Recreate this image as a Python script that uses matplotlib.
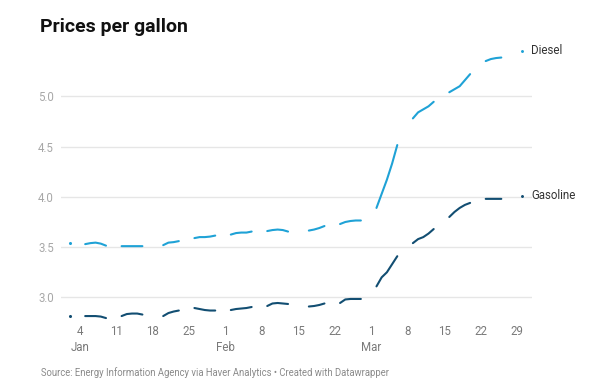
import numpy as np
import pandas as pd
import matplotlib
matplotlib.use("Agg")
import matplotlib.pyplot as plt
import matplotlib.transforms as mtransforms

plt.rcParams['font.family'] = ['Roboto', 'DejaVu Sans']

# daily values, first entry = Jan 2; None = no data (weekends / holidays)
start_date = "2022-01-02"
diesel = [3.54, None, None,
          3.53, 3.54, 3.545, 3.535, 3.515, None, None,
          3.51, 3.51, 3.51, 3.51, 3.51, None, None, None,
          3.52, 3.545, 3.55, 3.56, None, None,
          3.59, 3.60, 3.60, 3.605, 3.615, None, None,
          3.625, 3.64, 3.645, 3.645, 3.655, None, None,
          3.66, 3.67, 3.675, 3.67, 3.655, None, None, None,
          3.665, 3.675, 3.69, 3.71, None, None,
          3.73, 3.75, 3.76, 3.765, 3.765, None, None,
          3.89, 4.03, 4.17, 4.33, 4.515, None, None,
          4.78, 4.84, 4.87, 4.90, 4.945, None, None,
          5.04, 5.07, 5.10, 5.16, 5.22, None, None,
          5.35, 5.37, 5.38, 5.385]
gasoline = [2.815, None, None,
            2.815, 2.815, 2.815, 2.81, 2.795, None, None,
            2.815, 2.835, 2.84, 2.84, 2.83, None, None, None,
            2.815, 2.845, 2.86, 2.87, None, None,
            2.895, 2.885, 2.875, 2.87, 2.87, None, None,
            2.875, 2.885, 2.89, 2.895, 2.905, None, None,
            2.915, 2.94, 2.945, 2.94, 2.935, None, None, None,
            2.91, 2.915, 2.925, 2.94, None, None,
            2.945, 2.98, 2.985, 2.985, 2.985, None, None,
            3.11, 3.20, 3.25, 3.33, 3.41, None, None,
            3.54, 3.58, 3.60, 3.635, 3.68, None, None,
            3.80, 3.85, 3.89, 3.92, 3.94, None, None,
            3.98, 3.98, 3.98, 3.98]
tick_days = ["4", "11", "18", "25", "1", "8", "15", "22", "1", "8", "15", "22", "29"]
tick_months = ["Jan", "", "", "", "Feb", "", "", "", "Mar", "", "", "", ""]
label_names = ["Diesel", "Gasoline"]
label_values = [5.45, 4.01]
yticks = [3.0, 3.5, 4.0, 4.5, 5.0]

dates = pd.date_range(start_date, periods=len(diesel), freq="D")
df = pd.DataFrame({"Diesel": diesel, "Gasoline": gasoline}, index=dates).astype(float)
colors = {"Diesel": "#1fa2d6", "Gasoline": "#124e72"}

W, H = 612, 379
fig = plt.figure(figsize=(W / 100, H / 100), dpi=100)
ax = fig.add_axes([61 / W, 1 - 322.6 / H, (532 - 61) / W, (322.6 - 51) / H])

for name in ["Diesel", "Gasoline"]:
    s = df[name]
    ax.plot(s.index, s.values, color=colors[name], lw=1.5, solid_capstyle="round",
            solid_joinstyle="round", zorder=3)
    # single-day points have no neighbours, show them as dots
    lone = s.notna() & s.shift(1).isna() & s.shift(-1).isna()
    ax.plot(s.index[lone], s[lone], "o", ms=1.2, color=colors[name], zorder=3)

t0 = pd.Timestamp("2022-01-01")
ax.set_xlim(t0 - pd.Timedelta(days=0.65), t0 + pd.Timedelta(days=89.9))
ax.set_ylim(2.75, 5.45)

tick_dates = pd.date_range("2022-01-04", periods=len(tick_days), freq="7D")
ax.set_xticks(tick_dates)
ax.set_xticklabels([d + ("\n" + m if m else "") for d, m in zip(tick_days, tick_months)],
                   fontsize=8.3, color="#7a7a7a", linespacing=1.25, va="top")
ax.set_yticks(yticks)
ax.set_yticklabels([f"{v:.1f}" for v in yticks], fontsize=8.3, color="#a8a8a8")
ax.tick_params(axis="x", length=0, pad=2)
ax.tick_params(axis="y", length=0, pad=5)
ax.grid(axis="y", color="#e6e6e6", lw=1)
ax.set_axisbelow(True)
for sp in ax.spines.values():
    sp.set_visible(False)

trans = mtransforms.blended_transform_factory(ax.transAxes, ax.transData)
for name, v in zip(label_names, label_values):
    ax.plot([(522 - 61) / 471], [v], "o", ms=1.1, color=colors[name], transform=trans, clip_on=False)
    ax.text((531 - 61) / 471, v, name, transform=trans, fontsize=8.3, color="#333333",
            va="center", ha="left", clip_on=False)

fig.text(40 / W, 1 - 32.5 / H, "Prices per gallon", fontsize=14, fontweight="bold",
         color="#111111", ha="left", va="baseline")
fig.text(41 / W, 1 - 372.5 / H,
         "Source: Energy Information Agency via Haver Analytics \u2022 Created with Datawrapper",
         fontsize=6.85, color="#8a8a8a", ha="left", va="center")

fig.savefig("out.png", dpi=100)
